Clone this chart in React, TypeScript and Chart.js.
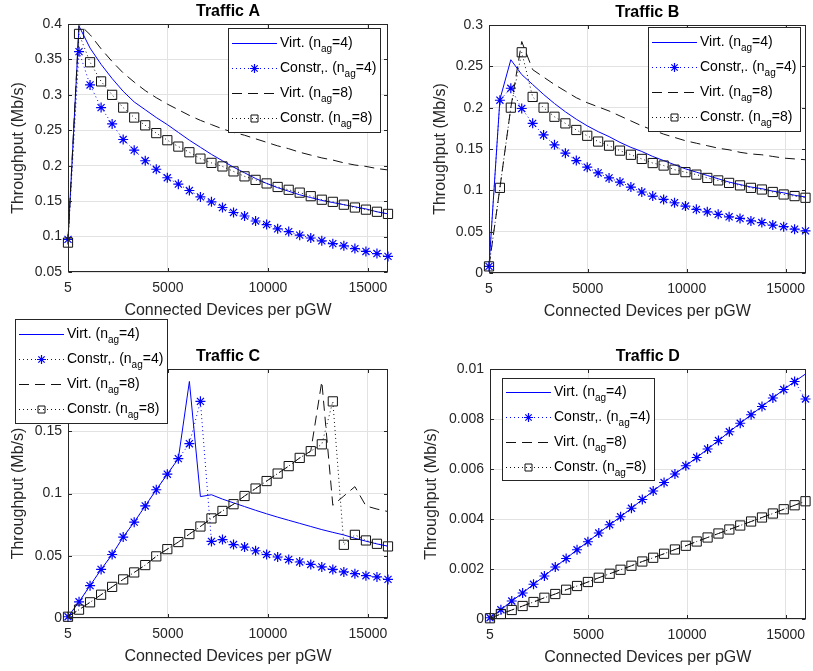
import React, { useEffect, useRef } from 'react';
import { Chart, registerables } from 'chart.js';

Chart.register(...registerables);

const FONT = "'Liberation Sans', Arial, Helvetica, sans-serif";
const AXIS_COLOR = '#262626';
const GRID_COLOR = '#e2e2e2';
const BLUE = '#0000ff';
const BLACK = '#111111';

// Connected devices per pGW (x values of every series)
const X_DEVICES = [5, 557, 1108, 1660, 2212, 2764, 3315, 3867, 4419, 4971, 5522, 6074, 6626, 7178, 7729, 8281, 8833, 9384, 9936, 10488, 11040, 11591, 12143, 12695, 13246, 13798, 14350, 14902, 15453, 16005];
const X_TICKS = [5, 5000, 10000, 15000];

const SERIES_LABELS = ['Virt. (n_ag=4)', 'Constr,. (n_ag=4)', 'Virt. (n_ag=8)', 'Constr. (n_ag=8)'];
const LEGEND_TEXT = [
  ['Virt. (n', 'ag', '=4)'],
  ['Constr,. (n', 'ag', '=4)'],
  ['Virt. (n', 'ag', '=8)'],
  ['Constr. (n', 'ag', '=8)'],
];

const X_TITLE = 'Connected Devices per pGW';
const Y_TITLE = 'Throughput (Mb/s)';

// Traffic A
const A_VIRT4 = [0.095, 0.397, 0.366, 0.343, 0.323, 0.305, 0.290, 0.279, 0.268, 0.258, 0.247, 0.236, 0.226, 0.216, 0.207, 0.198, 0.190, 0.182, 0.175, 0.169, 0.164, 0.159, 0.155, 0.151, 0.148, 0.145, 0.142, 0.139, 0.135, 0.132];
const A_CONSTR4 = [0.096, 0.361, 0.314, 0.282, 0.259, 0.237, 0.222, 0.207, 0.195, 0.183, 0.174, 0.165, 0.156, 0.149, 0.141, 0.134, 0.129, 0.122, 0.117, 0.111, 0.107, 0.102, 0.098, 0.094, 0.090, 0.087, 0.083, 0.079, 0.076, 0.072];
const A_VIRT8 = [0.095, 0.400, 0.385, 0.365, 0.347, 0.331, 0.318, 0.306, 0.296, 0.287, 0.279, 0.271, 0.264, 0.258, 0.252, 0.247, 0.243, 0.238, 0.233, 0.228, 0.224, 0.219, 0.215, 0.211, 0.208, 0.204, 0.201, 0.199, 0.196, 0.194];
const A_CONSTR8 = [0.0915, 0.386, 0.346, 0.319, 0.300, 0.282, 0.268, 0.257, 0.246, 0.236, 0.227, 0.219, 0.210, 0.204, 0.199, 0.192, 0.185, 0.180, 0.175, 0.170, 0.166, 0.162, 0.157, 0.152, 0.149, 0.145, 0.141, 0.138, 0.135, 0.132];
const A_Y_TICKS = [0.05, 0.1, 0.15, 0.2, 0.25, 0.3, 0.35, 0.4];

// Traffic B
const B_VIRT4 = [0.008, 0.210, 0.258, 0.240, 0.228, 0.216, 0.205, 0.195, 0.186, 0.178, 0.171, 0.165, 0.158, 0.152, 0.147, 0.141, 0.136, 0.131, 0.126, 0.122, 0.118, 0.114, 0.110, 0.107, 0.104, 0.102, 0.099, 0.097, 0.094, 0.092];
const B_CONSTR4 = [0.008, 0.209, 0.2235, 0.199, 0.181, 0.167, 0.155, 0.145, 0.136, 0.128, 0.121, 0.115, 0.110, 0.104, 0.098, 0.093, 0.089, 0.085, 0.081, 0.077, 0.074, 0.071, 0.068, 0.066, 0.063, 0.061, 0.058, 0.056, 0.053, 0.051];
const B_VIRT8 = [0.008, 0.103, 0.200, 0.280, 0.246, 0.237, 0.228, 0.220, 0.212, 0.206, 0.201, 0.196, 0.190, 0.184, 0.178, 0.173, 0.168, 0.164, 0.160, 0.157, 0.154, 0.151, 0.149, 0.146, 0.144, 0.143, 0.141, 0.139, 0.138, 0.137];
const B_CONSTR8 = [0.008, 0.103, 0.200, 0.267, 0.213, 0.200, 0.189, 0.181, 0.173, 0.166, 0.159, 0.154, 0.148, 0.143, 0.138, 0.133, 0.130, 0.125, 0.122, 0.119, 0.115, 0.112, 0.109, 0.106, 0.103, 0.101, 0.098, 0.095, 0.093, 0.091];
const B_Y_TICKS = [0, 0.05, 0.1, 0.15, 0.2, 0.25, 0.3];

// Traffic C
const C_VIRT4 = [0.001, 0.013, 0.026, 0.039, 0.051, 0.065, 0.077, 0.090, 0.103, 0.1155, 0.128, 0.190, 0.0975, 0.099, 0.0955, 0.0925, 0.0895, 0.0865, 0.0837, 0.081, 0.0785, 0.076, 0.0735, 0.071, 0.0688, 0.0667, 0.064, 0.0617, 0.0595, 0.0577];
const C_CONSTR4 = [0.001, 0.013, 0.026, 0.039, 0.051, 0.065, 0.077, 0.090, 0.103, 0.1155, 0.128, 0.140, 0.174, 0.0615, 0.063, 0.059, 0.057, 0.054, 0.051, 0.049, 0.047, 0.045, 0.043, 0.041, 0.039, 0.037, 0.0356, 0.034, 0.033, 0.031];
const C_VIRT8 = [0.001, 0.0067, 0.0126, 0.0187, 0.025, 0.031, 0.0366, 0.0425, 0.0495, 0.0553, 0.061, 0.0674, 0.0735, 0.080, 0.086, 0.0914, 0.098, 0.104, 0.110, 0.116, 0.122, 0.1286, 0.134, 0.190, 0.0905, 0.098, 0.1055, 0.090, 0.0875, 0.0855];
const C_CONSTR8 = [0.001, 0.0067, 0.0126, 0.0187, 0.025, 0.031, 0.0366, 0.0425, 0.0495, 0.0553, 0.061, 0.0674, 0.0735, 0.080, 0.086, 0.0914, 0.098, 0.104, 0.110, 0.116, 0.122, 0.1286, 0.134, 0.1395, 0.174, 0.0588, 0.0668, 0.0623, 0.0596, 0.0575];
const C_Y_TICKS = [0, 0.05, 0.1, 0.15, 0.2];

// Traffic D
const D_VIRT4 = [0.00005, 0.00037, 0.00072, 0.00104, 0.00139, 0.00172, 0.00208, 0.00242, 0.00277, 0.00309, 0.00344, 0.00377, 0.00409, 0.00443, 0.00478, 0.00512, 0.00546, 0.0058, 0.00613, 0.00646, 0.0068, 0.00714, 0.00749, 0.00783, 0.00817, 0.0085, 0.00884, 0.00918, 0.0095, 0.0098];
const D_CONSTR4 = [0.00005, 0.00037, 0.00072, 0.00104, 0.00139, 0.00172, 0.00208, 0.00242, 0.00277, 0.00309, 0.00344, 0.00377, 0.00409, 0.00443, 0.00478, 0.00512, 0.00546, 0.0058, 0.00613, 0.00646, 0.0068, 0.00714, 0.00749, 0.00783, 0.00817, 0.0085, 0.00884, 0.00918, 0.0095, 0.0088];
const D_VIRT8 = [0.00003, 0.0002, 0.00036, 0.00052, 0.00068, 0.00085, 0.001, 0.00117, 0.00132, 0.00148, 0.00165, 0.00181, 0.00197, 0.00213, 0.0023, 0.00245, 0.00261, 0.00278, 0.00293, 0.0031, 0.00326, 0.00342, 0.00358, 0.00374, 0.0039, 0.00406, 0.00422, 0.00439, 0.00455, 0.00471];
const D_CONSTR8 = [0.00003, 0.0002, 0.00036, 0.00052, 0.00068, 0.00085, 0.001, 0.00117, 0.00132, 0.00148, 0.00165, 0.00181, 0.00197, 0.00213, 0.0023, 0.00245, 0.00261, 0.00278, 0.00293, 0.0031, 0.00326, 0.00342, 0.00358, 0.00374, 0.0039, 0.00406, 0.00422, 0.00439, 0.00455, 0.00471];
const D_Y_TICKS = [0, 0.002, 0.004, 0.006, 0.008, 0.01];

type Style = { color: string; dash: number[]; marker: string | null; radius: number };
const STYLES: Style[] = [
  { color: BLUE, dash: [], marker: null, radius: 0 },
  { color: BLUE, dash: [1, 3], marker: 'star', radius: 5 },
  { color: BLACK, dash: [10, 6], marker: null, radius: 0 },
  { color: BLACK, dash: [1, 3], marker: 'rect', radius: 6.5 },
];

const W = 813;
const H = 671;
const X_AXIS_H = 48;

type PanelCfg = {
  title: string;
  area: { l: number; t: number; r: number; b: number };
  yTitleX: number;
  yMin: number;
  yMax: number;
  yTicks: number[];
  series: number[][];
  legend: { x: number; y: number; w: number; h: number };
};

const PANELS: PanelCfg[] = [
  { title: 'Traffic A', area: { l: 68, t: 24, r: 388, b: 272 }, yTitleX: 19, yMin: 0.05, yMax: 0.4, yTicks: A_Y_TICKS, series: [A_VIRT4, A_CONSTR4, A_VIRT8, A_CONSTR8], legend: { x: 228, y: 28, w: 152, h: 104 } },
  { title: 'Traffic B', area: { l: 489, t: 25, r: 810, b: 273 }, yTitleX: 441, yMin: 0, yMax: 0.3, yTicks: B_Y_TICKS, series: [B_VIRT4, B_CONSTR4, B_VIRT8, B_CONSTR8], legend: { x: 648, y: 27, w: 152, h: 104 } },
  { title: 'Traffic C', area: { l: 68, t: 369, r: 388, b: 618 }, yTitleX: 19, yMin: 0, yMax: 0.2, yTicks: C_Y_TICKS, series: [C_VIRT4, C_CONSTR4, C_VIRT8, C_CONSTR8], legend: { x: 15, y: 319, w: 152, h: 104 } },
  { title: 'Traffic D', area: { l: 490, t: 369, r: 810, b: 619 }, yTitleX: 432, yMin: 0, yMax: 0.01, yTicks: D_Y_TICKS, series: [D_VIRT4, D_CONSTR4, D_VIRT8, D_CONSTR8], legend: { x: 502, y: 378, w: 152, h: 102 } },
];

function drawMarker(ctx: CanvasRenderingContext2D, kind: string, x: number, y: number, r: number) {
  ctx.beginPath();
  if (kind === 'star') {
    for (let k = 0; k < 4; k++) {
      const a = (k * Math.PI) / 4;
      ctx.moveTo(x - Math.cos(a) * r, y - Math.sin(a) * r);
      ctx.lineTo(x + Math.cos(a) * r, y + Math.sin(a) * r);
    }
  } else {
    ctx.rect(x - r, y - r, 2 * r, 2 * r);
  }
  ctx.stroke();
}

const decoPlugin = {
  id: 'panelDeco',
  afterDraw(chart: any, _args: any, opts: any) {
    const ctx: CanvasRenderingContext2D = chart.ctx;
    const a = chart.chartArea;
    const xs = chart.scales.x;
    const ys = chart.scales.y;
    ctx.save();
    // axes box
    const L = Math.round(a.left) + 0.5;
    const R = Math.round(a.right) - 0.5;
    const T = Math.round(a.top) + 0.5;
    const B = Math.round(a.bottom) - 0.5;
    ctx.strokeStyle = AXIS_COLOR;
    ctx.lineWidth = 1;
    ctx.setLineDash([]);
    ctx.strokeRect(L, T, R - L, B - T);
    // inward ticks on all four sides
    const TL = 3.5;
    ctx.beginPath();
    for (const v of X_TICKS) {
      const px = Math.round(xs.getPixelForValue(v)) + 0.5;
      ctx.moveTo(px, B); ctx.lineTo(px, B - TL);
      ctx.moveTo(px, T); ctx.lineTo(px, T + TL);
    }
    for (const v of opts.yTicks as number[]) {
      const py = Math.round(ys.getPixelForValue(v)) + 0.5;
      ctx.moveTo(L, py); ctx.lineTo(L + TL, py);
      ctx.moveTo(R, py); ctx.lineTo(R - TL, py);
    }
    ctx.stroke();

    // title
    ctx.fillStyle = '#000';
    ctx.font = `bold 16px ${FONT}`;
    ctx.textAlign = 'center';
    ctx.textBaseline = 'alphabetic';
    ctx.fillText(opts.title, (a.left + a.right) / 2, a.top - 8);

    // legend
    const lg = opts.legend;
    ctx.fillStyle = '#ffffff';
    ctx.fillRect(lg.x, lg.y, lg.w, lg.h);
    ctx.strokeStyle = AXIS_COLOR;
    ctx.strokeRect(lg.x + 0.5, lg.y + 0.5, lg.w, lg.h);
    const rowStart = lg.y + (lg.h - 75) / 2;
    for (let i = 0; i < 4; i++) {
      const st = STYLES[i];
      const ry = Math.round(rowStart + 25 * i) + 0.5;
      ctx.strokeStyle = st.color;
      ctx.lineWidth = 1;
      ctx.setLineDash(st.dash);
      ctx.beginPath();
      ctx.moveTo(lg.x + 4, ry);
      ctx.lineTo(lg.x + 49, ry);
      ctx.stroke();
      ctx.setLineDash([]);
      if (st.marker) {
        ctx.lineWidth = st.marker === 'star' ? 1.2 : 1;
        drawMarker(ctx, st.marker, lg.x + 26.5, ry, st.marker === 'star' ? 4.5 : 3.5);
      }
      const parts = LEGEND_TEXT[i];
      ctx.fillStyle = '#000';
      ctx.textAlign = 'left';
      ctx.textBaseline = 'alphabetic';
      let tx = lg.x + 52;
      ctx.font = `14px ${FONT}`;
      ctx.fillText(parts[0], tx, ry + 3.5);
      tx += ctx.measureText(parts[0]).width;
      ctx.font = `10px ${FONT}`;
      ctx.fillText(parts[1], tx, ry + 8.5);
      tx += ctx.measureText(parts[1]).width;
      ctx.font = `14px ${FONT}`;
      ctx.fillText(parts[2], tx, ry + 3.5);
    }
    ctx.restore();
  },
};

function fmt(v: number) {
  return String(Math.round(v * 100000) / 100000);
}

function buildConfig(p: PanelCfg): any {
  const pl = p.yTitleX - 9.6;
  const yWidth = p.area.l - pl;
  const datasets = p.series.map((ys, i) => {
    const st = STYLES[i];
    return {
      label: SERIES_LABELS[i],
      data: X_DEVICES.map((x, j) => ({ x, y: ys[j] })),
      borderColor: st.color,
      backgroundColor: st.color,
      borderWidth: 1,
      borderDash: st.dash,
      pointStyle: st.marker || 'circle',
      pointRadius: st.marker ? st.radius : 0,
      pointHoverRadius: st.marker ? st.radius : 0,
      pointBorderColor: st.color,
      pointBackgroundColor: 'rgba(0,0,0,0)',
      pointBorderWidth: st.marker === 'star' ? 1.2 : 1,
      tension: 0,
      fill: false,
      clip: false,
      order: 4 - i,
    };
  });
  const tickFont = { family: FONT, size: 14 };
  const titleFont = { family: FONT, size: 16 };
  return {
    type: 'line',
    data: { datasets },
    options: {
      responsive: false,
      animation: false,
      devicePixelRatio: 1,
      events: [],
      layout: {
        padding: { left: pl, top: p.area.t, right: W - p.area.r, bottom: H - p.area.b - X_AXIS_H },
      },
      plugins: {
        legend: { display: false },
        title: { display: false },
        tooltip: { enabled: false },
        panelDeco: { title: p.title, legend: p.legend, yTicks: p.yTicks },
      },
      scales: {
        x: {
          type: 'linear',
          bounds: 'data',
          min: 5,
          max: 16005,
          afterBuildTicks: (s: any) => { s.ticks = X_TICKS.map((v) => ({ value: v })); },
          afterFit: (s: any) => { s.height = X_AXIS_H; s.paddingLeft = 0; s.paddingRight = 0; s.paddingTop = 0; s.paddingBottom = 0; },
          ticks: { callback: (v: number) => String(v), padding: 8, font: tickFont, color: AXIS_COLOR, maxRotation: 0, minRotation: 0, autoSkip: false },
          grid: { color: GRID_COLOR, drawTicks: false, lineWidth: 1 },
          border: { display: false },
          title: { display: true, text: X_TITLE, font: titleFont, color: AXIS_COLOR, padding: 0 },
        },
        y: {
          type: 'linear',
          bounds: 'data',
          min: p.yMin,
          max: p.yMax,
          afterBuildTicks: (s: any) => { s.ticks = p.yTicks.map((v) => ({ value: v })); },
          afterFit: (s: any) => { s.width = yWidth; s.paddingLeft = 0; s.paddingRight = 0; s.paddingTop = 0; s.paddingBottom = 0; },
          ticks: { callback: (v: number) => fmt(v), padding: 6, font: tickFont, color: AXIS_COLOR, autoSkip: false },
          grid: { color: GRID_COLOR, drawTicks: false, lineWidth: 1 },
          border: { display: false },
          title: { display: true, text: Y_TITLE, font: titleFont, color: AXIS_COLOR, padding: 0 },
        },
      },
    },
    plugins: [decoPlugin],
  };
}

function Panel({ cfg }: { cfg: PanelCfg }) {
  const ref = useRef<HTMLCanvasElement>(null);
  useEffect(() => {
    if (!ref.current) return;
    const chart = new Chart(ref.current, buildConfig(cfg));
    return () => chart.destroy();
  }, [cfg]);
  return (
    <canvas
      ref={ref}
      width={W}
      height={H}
      style={{ position: 'absolute', left: 0, top: 0, width: W, height: H }}
    />
  );
}

export default function App() {
  return (
    <div style={{ position: 'absolute', left: 0, top: 0, width: W, height: H, background: '#ffffff', overflow: 'hidden' }}>
      {PANELS.map((p) => (
        <Panel key={p.title} cfg={p} />
      ))}
    </div>
  );
}
